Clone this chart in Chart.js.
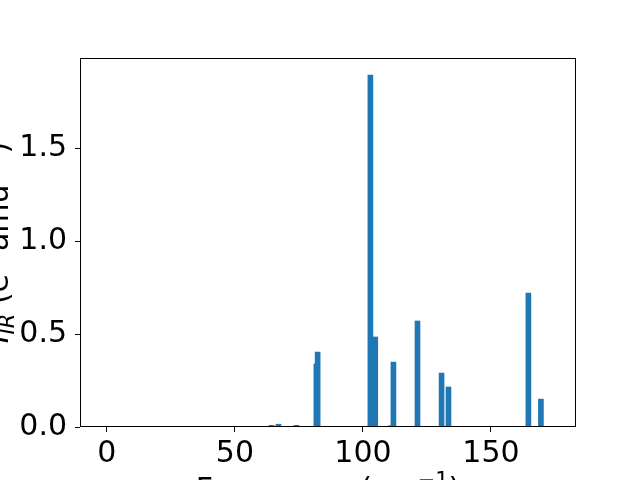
<!DOCTYPE html>
<html><head><meta charset="utf-8">
<script src="https://cdn.jsdelivr.net/npm/chart.js@4"></script>
<style>html,body{margin:0;padding:0;background:#fff}</style>
</head><body>
<canvas id="c" width="640" height="480"></canvas>
<script>
// Data
const frequencies = [64.3, 67.0, 74.0, 81.8, 82.3, 102.9, 104.8, 110.9, 111.9, 121.3, 130.7, 133.4, 164.6, 169.5];
const intensities = [0.009, 0.015, 0.009, 0.339, 0.403, 1.892, 0.484, 0.007, 0.349, 0.570, 0.290, 0.215, 0.720, 0.150];
const xTicks = [0, 50, 100, 150];
const yTicks = [0, 0.5, 1.0, 1.5];

const FONT = 'DejaVu Sans';
const points = frequencies.map((f, i) => ({x: f, y: intensities[i]}));

function drawRich(ctx, segs, align) {
  let total = 0;
  segs.forEach(s => { ctx.font = (s.it ? 'italic ' : '') + s.size + 'px "' + FONT + '"'; s.w = ctx.measureText(s.t).width; total += s.w; });
  let x = align === 'center' ? -total / 2 : 0;
  segs.forEach(s => { ctx.font = (s.it ? 'italic ' : '') + s.size + 'px "' + FONT + '"'; ctx.fillText(s.t, x, s.dy || 0); x += s.w; });
}

const framePlugin = {
  id: 'frame',
  afterDraw(chart) {
    const ctx = chart.ctx, a = chart.chartArea;
    ctx.save();
    ctx.strokeStyle = '#000'; ctx.lineWidth = 1;
    ctx.strokeRect(a.left + 0.5, a.top + 0.5, a.right - a.left - 1, a.bottom - a.top - 1);
    ctx.fillStyle = '#000'; ctx.textBaseline = 'alphabetic'; ctx.textAlign = 'left';
    // x title
    ctx.save();
    ctx.translate((a.left + a.right) / 2, 499);
    drawRich(ctx, [{t: 'Frequency (cm', size: 30}, {t: '\u22121', size: 21, dy: -12}, {t: ')', size: 30}], 'center');
    ctx.restore();
    // y title
    ctx.save();
    ctx.translate(8, (a.top + a.bottom) / 2);
    ctx.rotate(-Math.PI / 2);
    drawRich(ctx, [{t: 'I', size: 30, it: true}, {t: 'IR', size: 21, it: true, dy: 6}, {t: ' (e', size: 30}, {t: '2', size: 21, dy: -12}, {t: ' amu', size: 30}, {t: '\u22121', size: 21, dy: -12}, {t: ')', size: 30}], 'center');
    ctx.restore();
    ctx.restore();
  }
};

Chart.defaults.color = '#000';
new Chart(document.getElementById('c'), {
  type: 'bar',
  data: { datasets: [{ data: points, backgroundColor: '#1f77b4', borderWidth: 0, barThickness: 5 }] },
  options: {
    responsive: false, animation: false, devicePixelRatio: 1,
    layout: { padding: { left: 0, top: 58, right: 64, bottom: 0 } },
    plugins: { legend: { display: false }, tooltip: { enabled: false } },
    scales: {
      x: {
        type: 'linear', min: -10.5, max: 183.2, offset: false,
        afterFit: s => { s.height = 53; },
        afterBuildTicks: s => { s.ticks = xTicks.map(v => ({value: v})); },
        grid: { drawOnChartArea: false, drawTicks: true, tickLength: 5, color: '#000', offset: false },
        border: { display: false },
        ticks: { font: { family: FONT, size: 30 }, padding: 4, maxRotation: 0, autoSkip: false, callback: v => String(v) }
      },
      y: {
        min: 0, max: 1.984,
        afterFit: s => { s.width = 80; },
        afterBuildTicks: s => { s.ticks = yTicks.map(v => ({value: v})); },
        grid: { drawOnChartArea: false, drawTicks: true, tickLength: 5, color: '#000' },
        border: { display: false },
        ticks: { font: { family: FONT, size: 30 }, padding: 8, autoSkip: false, callback: v => v.toFixed(1) }
      }
    }
  },
  plugins: [framePlugin]
});
</script>
</body></html>
